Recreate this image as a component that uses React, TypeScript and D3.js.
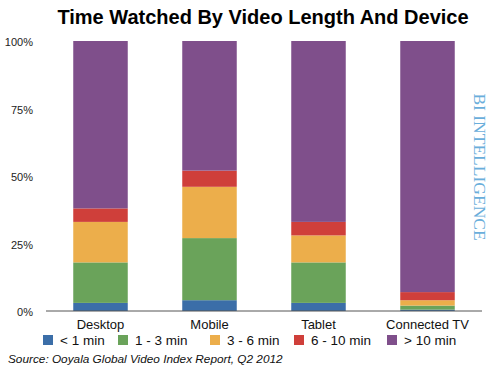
import React from "react";
import * as d3 from "d3";

const width = 500;
const height = 368;
const margin = { left: 46, right: 18, top: 41, bottom: 57 }; // plot area

const devices = ["Desktop", "Mobile", "Tablet", "Connected TV"];
const lengths = ["< 1 min", "1 - 3 min", "3 - 6 min", "6 - 10 min", "> 10 min"];
const colors = ["#3b6ea8", "#6aa35a", "#ecae4b", "#cf3f3a", "#7f4f8b"];
// share of time watched per device, one array per video length (percent)
const under1 = [3, 4, 3, 0.5];
const oneToThree = [15, 23, 15, 1.5];
const threeToSix = [15, 19, 10, 2];
const sixToTen = [5, 6, 5, 3];
const over10 = [62, 48, 67, 93];
const yTicks = [0, 25, 50, 75, 100];

const series = [under1, oneToThree, threeToSix, sixToTen, over10];
const font = "Helvetica, Arial, 'Liberation Sans', sans-serif";

const App = () => {
  const x = d3
    .scaleBand()
    .domain(devices)
    .range([margin.left, width - margin.right])
    .paddingInner(0.5)
    .paddingOuter(0.25);
  const y = d3
    .scaleLinear()
    .domain([0, 100])
    .range([height - margin.bottom, margin.top]);

  const rows = devices.map((d, i) => {
    const row: Record<string, any> = { device: d };
    lengths.forEach((l, j) => (row[l] = series[j][i]));
    return row;
  });
  const stacked = d3.stack().keys(lengths)(rows as any);
  const baseline = y(0);

  // legend positions, each item starts at an estimated x
  const legendX = [43, 118, 210, 294, 387];

  return (
    <svg width={width} height={height} style={{ position: "absolute", left: 0, top: 0 }}>
      <rect width={width} height={height} fill="#fff" />
      <text
        x={263}
        y={24}
        textAnchor="middle"
        fontFamily={font}
        fontWeight="bold"
        fontSize={20}
      >
        Time Watched By Video Length And Device
      </text>
      {stacked.map((s, j) => (
        <g key={s.key} fill={colors[j]}>
          {s.map((p, i) => (
            <rect
              key={devices[i]}
              x={x(devices[i])}
              y={y(p[1])}
              width={x.bandwidth()}
              height={y(p[0]) - y(p[1])}
            />
          ))}
        </g>
      ))}
      <line x1={margin.left} x2={width - margin.right} y1={baseline} y2={baseline} stroke="#555" strokeWidth={1} />
      {yTicks.map((t) => (
        <text key={t} x={33} y={y(t) + 5} textAnchor="end" fontFamily={font} fontSize={11} fill="#222">
          {t}%
        </text>
      ))}
      {devices.map((d) => (
        <text
          key={d}
          x={(x(d) ?? 0) + x.bandwidth() / 2}
          y={329}
          textAnchor="middle"
          fontFamily={font}
          fontSize={13}
          fill="#111"
        >
          {d}
        </text>
      ))}
      {lengths.map((l, j) => (
        <g key={l} transform={`translate(${legendX[j]}, 335)`}>
          <rect width={10} height={10} fill={colors[j]} />
          <text x={17} y={10} fontFamily={font} fontSize={13.5} fill="#111">
            {l}
          </text>
        </g>
      ))}
      <text x={8} y={363} fontFamily={font} fontStyle="italic" fontSize={11.8} fill="#111">
        Source: Ooyala Global Video Index Report, Q2 2012
      </text>
      <text
        transform="translate(474, 167) rotate(90)"
        textAnchor="middle"
        fontFamily="'Liberation Serif', 'Times New Roman', serif"
        fontSize={17.5}
        fill="#6aaedb"
      >
        BI INTELLIGENCE
      </text>
    </svg>
  );
};

export default App;
